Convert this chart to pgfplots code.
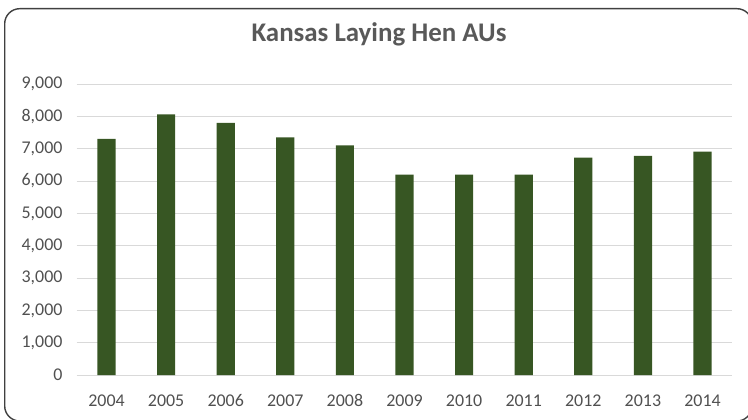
\documentclass[border=0pt]{standalone}
\usepackage{pgfplots}
\pgfplotsset{compat=1.18}
\usepackage{fontspec}
\setmainfont{Carlito}
\definecolor{txt}{HTML}{595959}
\definecolor{barc}{HTML}{375623}
\definecolor{gridc}{HTML}{D9D9D9}
\begin{document}
\begin{tikzpicture}[x=1bp,y=1bp]
\useasboundingbox (0,0) rectangle (748,419);
\begin{scope}
\clip (0,0) rectangle (748,419);
\draw[line width=1.4bp, color=black!75, rounded corners=15bp] (4.7,-2) rectangle (752,410.3);
\end{scope}
\node[anchor=base, font=\fontsize{27}{30}\selectfont\bfseries, text=txt] at (379,377.3) {Kansas Laying Hen AUs};
\begin{axis}[
  at={(76.7bp,44bp)}, anchor=south west,
  scale only axis, width=655.6bp, height=291bp,
  xmin=-0.5, xmax=10.5, ymin=0, ymax=9000,
  ybar, bar width=0.305,
  ytick={0,1000,...,9000},
  xtick={0,...,10},
  xticklabels={2004,2005,2006,2007,2008,2009,2010,2011,2012,2013,2014},
  ymajorgrids, grid style={gridc, line width=1bp},
  axis line style={draw=none},
  major tick length=0pt,
  scaled y ticks=false,
  tick label style={font=\fontsize{18}{20}\selectfont, text=txt!90!black},
  y tick label style={xshift=-10.7bp},
  x tick label style={yshift=-16bp},
  /pgf/number format/assume math mode=true,
  /pgf/number format/1000 sep={,},
]
\addplot[fill=barc, draw=none] coordinates {
(0,7300) (1,8060) (2,7800) (3,7350) (4,7100) (5,6200) (6,6200) (7,6200) (8,6720) (9,6780) (10,6910)
};
\end{axis}
\end{tikzpicture}
\end{document}
